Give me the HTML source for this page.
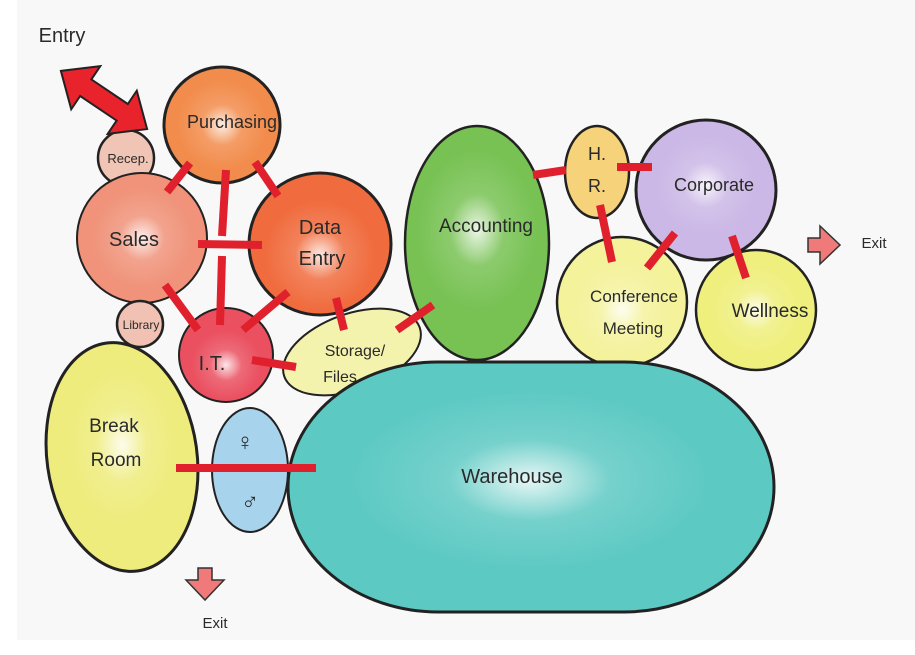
<!DOCTYPE html>
<html><head><meta charset="utf-8"><style>
html,body{margin:0;padding:0;background:#fff}
svg{display:block}
text{font-family:"Liberation Sans",sans-serif;fill:#2a2a2a;text-anchor:middle}
</style></head><body>
<svg width="915" height="655" viewBox="0 0 915 655" xmlns="http://www.w3.org/2000/svg">
<defs>
<radialGradient id="g"><stop offset="0" stop-color="#fff" stop-opacity="0.85"/><stop offset="0.45" stop-color="#fff" stop-opacity="0.15"/><stop offset="1" stop-color="#fff" stop-opacity="0"/></radialGradient>
</defs>
<rect x="17" y="0" width="898" height="640" fill="#f8f8f8"/>
<g stroke="#222" stroke-width="3">
<circle cx="222" cy="125" r="58" fill="#f28c4c"/>
<circle cx="126" cy="158" r="28" fill="#f1c5b5" stroke-width="2.5"/>
<circle cx="142" cy="238" r="65" fill="#f0937a" stroke-width="2"/>
<circle cx="320" cy="244" r="71" fill="#f06c3e"/>
<circle cx="140" cy="324" r="23" fill="#f1c2b3" stroke-width="2.5"/>
<circle cx="226" cy="355" r="47" fill="#ea5060" stroke-width="2"/>
<ellipse cx="352" cy="352" rx="72" ry="38" transform="rotate(-20 352 352)" fill="#f4f3ad" stroke-width="2"/>
<ellipse cx="477" cy="243" rx="72" ry="117" fill="#78c254" stroke-width="2.5"/>
<ellipse cx="597" cy="172" rx="32" ry="46" fill="#f6d27a" stroke-width="2.5"/>
<circle cx="706" cy="190" r="70" fill="#cbb8e6"/>
<circle cx="622" cy="302" r="65" fill="#f4f29b" stroke-width="2.5"/>
<circle cx="756" cy="310" r="60" fill="#efef7e" stroke-width="2.5"/>
<ellipse cx="122" cy="457" rx="75" ry="115" transform="rotate(-8 122 457)" fill="#eeec7c"/>
<ellipse cx="250" cy="470" rx="38" ry="62" fill="#a8d3ec" stroke-width="2"/>
<rect x="288" y="362" width="486" height="250" rx="150" ry="125" fill="#5dc9c3"/>
</g>
<g fill="url(#g)">
<circle cx="222" cy="125" r="45"/><circle cx="142" cy="238" r="50"/><circle cx="320" cy="255" r="55"/>
<circle cx="226" cy="365" r="35"/><ellipse cx="477" cy="230" rx="60" ry="80"/><circle cx="706" cy="185" r="50"/>
<circle cx="622" cy="310" r="50"/><circle cx="756" cy="310" r="45"/><ellipse cx="122" cy="445" rx="55" ry="80"/>
<ellipse cx="530" cy="480" rx="180" ry="90"/>
</g>
<g stroke="#e0202c" stroke-width="8" stroke-linecap="butt">
<line x1="190" y1="163" x2="167" y2="192"/>
<line x1="226" y1="170" x2="222" y2="236"/>
<line x1="222" y1="256" x2="220" y2="325"/>
<line x1="255" y1="162" x2="278" y2="196"/>
<line x1="198" y1="244" x2="262" y2="245"/>
<line x1="165" y1="285" x2="198" y2="330"/>
<line x1="288" y1="292" x2="243" y2="330"/>
<line x1="336" y1="298" x2="344" y2="330"/>
<line x1="252" y1="360" x2="296" y2="367"/>
<line x1="397" y1="330" x2="433" y2="305"/>
<line x1="533" y1="175" x2="566" y2="170"/>
<line x1="617" y1="167" x2="652" y2="167"/>
<line x1="600" y1="205" x2="612" y2="262"/>
<line x1="675" y1="233" x2="647" y2="268"/>
<line x1="732" y1="236" x2="746" y2="278"/>
<line x1="176" y1="468" x2="316" y2="468"/>
</g>
<polygon transform="translate(104,100) rotate(34)" points="-52,0 -22,-26 -22,-10 22,-10 22,-26 52,0 22,26 22,10 -22,10 -22,26" fill="#e8232c" stroke="#222" stroke-width="2"/>
<polygon points="808,238 820,238 820,226 840,245 820,264 820,252 808,252" fill="#f07a7a" stroke="#333" stroke-width="1.5"/>
<polygon points="186,580 198,580 198,568 212,568 212,580 224,580 205,600" fill="#f07a7a" stroke="#333" stroke-width="1.5"/>
<g font-size="18">
<text x="62" y="42" font-size="20">Entry</text>
<text x="232" y="128">Purchasing</text>
<text x="128" y="163" font-size="13">Recep.</text>
<text x="134" y="246" font-size="20">Sales</text>
<text x="320" y="234" font-size="20">Data</text>
<text x="322" y="265" font-size="20">Entry</text>
<text x="141" y="329" font-size="12">Library</text>
<text x="212" y="370" font-size="20">I.T.</text>
<text x="355" y="356" font-size="16">Storage/</text>
<text x="340" y="382" font-size="16">Files</text>
<text x="486" y="232" font-size="19">Accounting</text>
<text x="597" y="160">H.</text>
<text x="597" y="192">R.</text>
<text x="714" y="191">Corporate</text>
<text x="634" y="302" font-size="17">Conference</text>
<text x="633" y="334" font-size="17">Meeting</text>
<text x="770" y="317" font-size="19">Wellness</text>
<text x="874" y="248" font-size="15">Exit</text>
<text x="114" y="432" font-size="19">Break</text>
<text x="116" y="466" font-size="19">Room</text>
<text x="245" y="450" font-size="24">♀</text>
<text x="250" y="510" font-size="24">♂</text>
<text x="512" y="483" font-size="20">Warehouse</text>
<text x="215" y="628" font-size="15">Exit</text>
</g>
</svg>
</body></html>
